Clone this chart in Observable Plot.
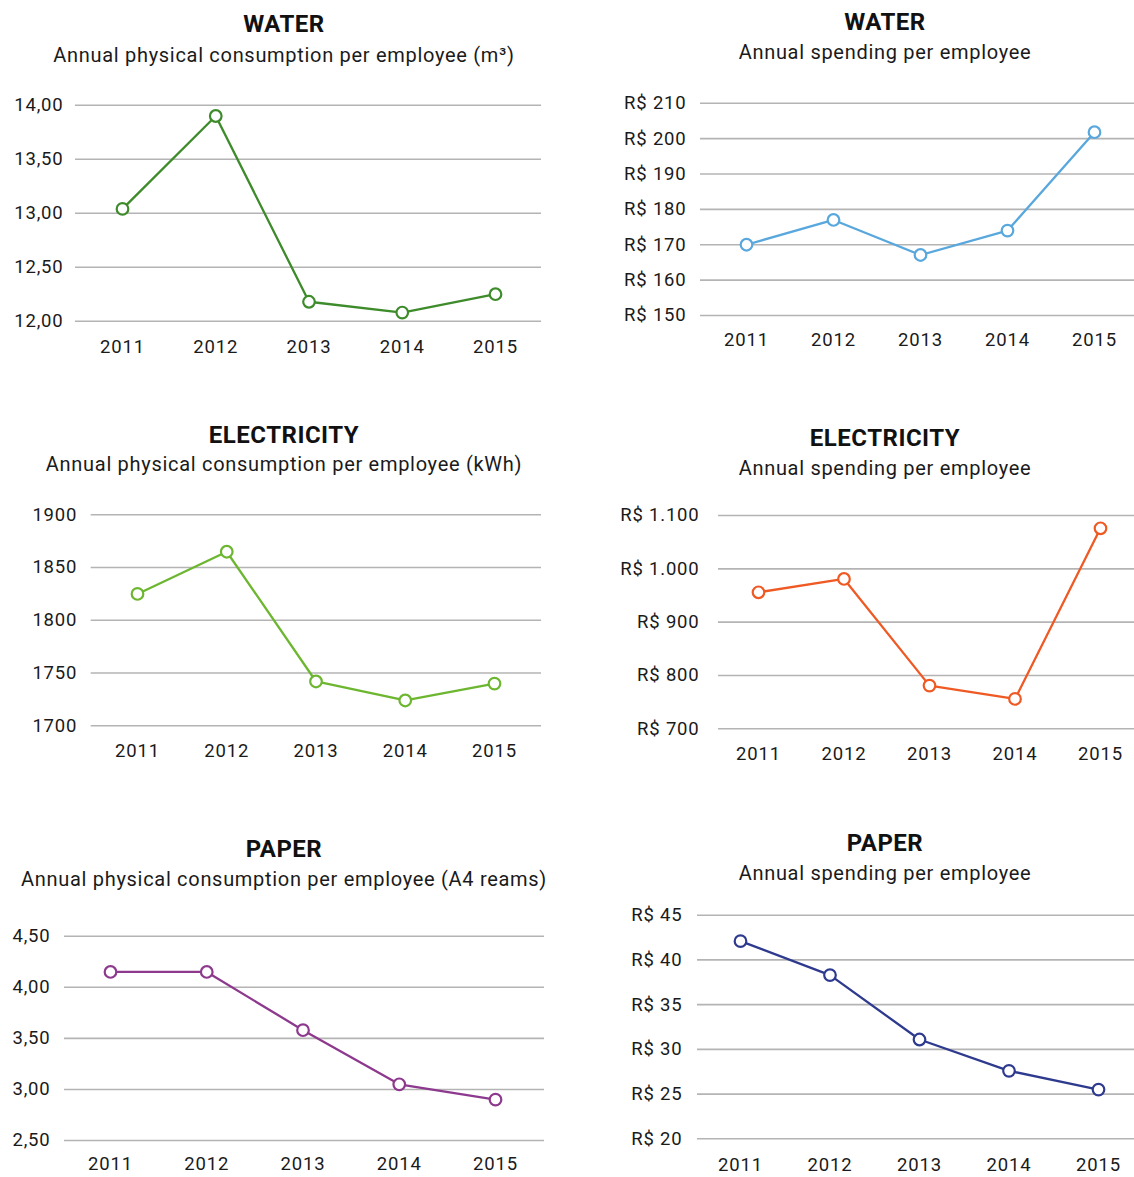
<!DOCTYPE html>
<html>
<head>
<meta charset="utf-8">
<script src="https://cdn.jsdelivr.net/npm/d3@7"></script>
<script src="https://cdn.jsdelivr.net/npm/@observablehq/plot@0.6"></script>
<style>
  html, body { margin: 0; padding: 0; background: #fff; }
  #page { position: relative; width: 1134px; height: 1177px; overflow: hidden; font-family: Roboto, "Noto Sans", sans-serif; color: #1a1a1a; }
  .panel-svg { position: absolute; }
  .panel-svg text { letter-spacing: 0.8px; }
  .title { position: absolute; width: 560px; text-align: center; font-weight: 700; font-size: 24px; line-height: 24px; letter-spacing: 0.5px; color: #111; }
  .subtitle { position: absolute; width: 600px; text-align: center; font-weight: 400; font-size: 20px; line-height: 20px; letter-spacing: 0.7px; color: #1a1a1a; }
</style>
</head>
<body>
<div id="page"></div>
<script>
// ---- data ----
const years = [2011, 2012, 2013, 2014, 2015];
const waterConsumption = [13.04, 13.90, 12.18, 12.08, 12.25];
const waterSpending = [170.0, 177.0, 167.1, 174.0, 201.8];
const electricityConsumption = [1825, 1865, 1742, 1724, 1740];
const electricitySpending = [956, 981, 781, 756, 1076];
const paperConsumption = [4.15, 4.15, 3.58, 3.05, 2.90];
const paperSpending = [42.1, 38.3, 31.1, 27.6, 25.5];

const titles = ["WATER", "WATER", "ELECTRICITY", "ELECTRICITY", "PAPER", "PAPER"];
const subtitles = [
  "Annual physical consumption per employee (m³)",
  "Annual spending per employee",
  "Annual physical consumption per employee (kWh)",
  "Annual spending per employee",
  "Annual physical consumption per employee (A4 reams)",
  "Annual spending per employee"
];
const ticksWaterConsumption = [12, 12.5, 13, 13.5, 14];
const ticksWaterSpending = [150, 160, 170, 180, 190, 200, 210];
const ticksElectricityConsumption = [1700, 1750, 1800, 1850, 1900];
const ticksElectricitySpending = [700, 800, 900, 1000, 1100];
const ticksPaperConsumption = [2.5, 3, 3.5, 4, 4.5];
const ticksPaperSpending = [20, 25, 30, 35, 40, 45];

// ---- formats ----
const br = d3.formatLocale({decimal: ",", thousands: ".", grouping: [3], currency: ["R$ ", ""]});
const fmtDec = br.format(",.2f");
const fmtMoney = br.format("$,.0f");
const fmtInt = d3.format("d");

const series = [
  {values: waterConsumption, ticks: ticksWaterConsumption, fmt: fmtDec, color: "#3e8b2b"},
  {values: waterSpending, ticks: ticksWaterSpending, fmt: fmtMoney, color: "#58a7dd"},
  {values: electricityConsumption, ticks: ticksElectricityConsumption, fmt: fmtInt, color: "#6cb630"},
  {values: electricitySpending, ticks: ticksElectricitySpending, fmt: fmtMoney, color: "#ef5a24"},
  {values: paperConsumption, ticks: ticksPaperConsumption, fmt: fmtDec, color: "#8d398d"},
  {values: paperSpending, ticks: ticksPaperSpending, fmt: fmtMoney, color: "#2e3a8e"}
];

// ---- layout (page pixel coordinates) ----
const layout = [
  {left: 0,   top: 80,  width: 567, height: 290, gridLeft: 75,   gridRight: 541,  yTop: 104.7, yBottom: 320.7, xFirst: 122, xLast: 495,  pad: 12, tp: 19,   titleY: 24,  subY: 55,  cx: 284},
  {left: 567, top: 78,  width: 567, height: 290, gridLeft: 700,  gridRight: 1134, yTop: 102.7, yBottom: 315,   xFirst: 746, xLast: 1094, pad: 14, tp: 17.6, titleY: 22,  subY: 52,  cx: 885},
  {left: 0,   top: 490, width: 567, height: 290, gridLeft: 90.7, gridRight: 541,  yTop: 514.3, yBottom: 725.3, xFirst: 137, xLast: 494,  pad: 14, tp: 18.3, titleY: 435, subY: 464, cx: 284},
  {left: 567, top: 490, width: 567, height: 290, gridLeft: 718,  gridRight: 1134, yTop: 515,   yBottom: 728.3, xFirst: 758, xLast: 1100, pad: 19, tp: 18.3, titleY: 438, subY: 468, cx: 885},
  {left: 0,   top: 905, width: 567, height: 272, gridLeft: 64,   gridRight: 544,  yTop: 935.7, yBottom: 1140,  xFirst: 110, xLast: 495,  pad: 14, tp: 16.5, titleY: 849, subY: 879, cx: 284},
  {left: 567, top: 895, width: 567, height: 282, gridLeft: 697,  gridRight: 1134, yTop: 914.7, yBottom: 1138.3, xFirst: 740, xLast: 1098, pad: 15, tp: 19.3, titleY: 843, subY: 873, cx: 885}
];

const page = document.getElementById("page");

series.forEach((s, i) => {
  const L = layout[i];
  const data = years.map((year, j) => ({year, value: s.values[j]}));
  const marginTop = L.yTop - L.top;
  const marginBottom = L.height - (L.yBottom - L.top);
  const chart = Plot.plot({
    width: L.width,
    height: L.height,
    marginLeft: L.gridLeft - L.left,
    marginRight: L.left + L.width - L.gridRight,
    marginTop,
    marginBottom,
    style: {fontFamily: "Roboto, sans-serif", fontSize: "18.5px", color: "#1a1a1a", background: "transparent", overflow: "visible"},
    x: {type: "linear", domain: [years[0], years[years.length - 1]], range: [L.xFirst - L.left, L.xLast - L.left]},
    y: {type: "linear", domain: [d3.min(s.ticks), d3.max(s.ticks)]},
    marks: [
      Plot.ruleY(s.ticks, {stroke: "#b4b4b4", strokeWidth: 1.6}),
      Plot.axisY(s.ticks, {tickSize: 0, tickPadding: L.pad, tickFormat: s.fmt, label: null, fontSize: 18.5}),
      Plot.axisX(years, {tickSize: 0, tickPadding: L.tp, tickFormat: d => String(d), label: null, fontSize: 18.5}),
      Plot.line(data, {x: "year", y: "value", stroke: s.color, strokeWidth: 2.3}),
      Plot.dot(data, {x: "year", y: "value", r: 5.8, fill: "white", stroke: s.color, strokeWidth: 2.2})
    ]
  });
  chart.classList.add("panel-svg");
  chart.style.left = L.left + "px";
  chart.style.top = L.top + "px";
  page.appendChild(chart);

  const t = document.createElement("div");
  t.className = "title";
  t.textContent = titles[i];
  t.style.left = (L.cx - 280) + "px";
  t.style.top = (L.titleY - 12) + "px";
  page.appendChild(t);

  const st = document.createElement("div");
  st.className = "subtitle";
  st.textContent = subtitles[i];
  st.style.left = (L.cx - 300) + "px";
  st.style.top = (L.subY - 10) + "px";
  page.appendChild(st);
});
</script>
</body>
</html>
